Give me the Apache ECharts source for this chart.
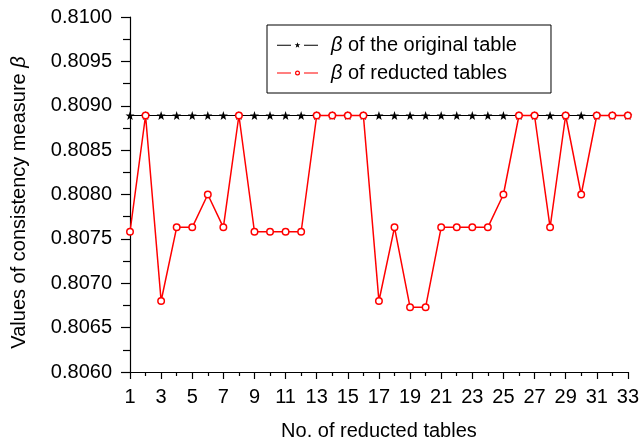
<!DOCTYPE html>
<html>
<head>
<meta charset="utf-8">
<script src="https://cdn.jsdelivr.net/npm/echarts@6/dist/echarts.min.js"></script>
<style>html,body{margin:0;padding:0;background:#fff}#c{width:642px;height:446px}</style>
</head>
<body>
<div id="c"></div>
<script>
const tables = [1,2,3,4,5,6,7,8,9,10,11,12,13,14,15,16,17,18,19,20,21,22,23,24,25,26,27,28,29,30,31,32,33];
const betaOriginal = [0.80889,0.80889,0.80889,0.80889,0.80889,0.80889,0.80889,0.80889,0.80889,0.80889,0.80889,0.80889,0.80889,0.80889,0.80889,0.80889,0.80889,0.80889,0.80889,0.80889,0.80889,0.80889,0.80889,0.80889,0.80889,0.80889,0.80889,0.80889,0.80889,0.80889,0.80889,0.80889,0.80889];
const betaReducted = [0.80758,0.80889,0.80680,0.80763,0.80763,0.80800,0.80763,0.80889,0.80758,0.80758,0.80758,0.80758,0.80889,0.80889,0.80889,0.80889,0.80680,0.80763,0.80673,0.80673,0.80763,0.80763,0.80763,0.80763,0.80800,0.80889,0.80889,0.80763,0.80889,0.80800,0.80889,0.80889,0.80889];
const seriesNames = ['original', 'reducted'];
const legendLabels = {original: ' of the original table', reducted: ' of reducted tables'};
const yTitle = 'Values of consistency measure ';
const xTitle = 'No. of reducted tables';

const FONT = 'Arial, "Liberation Sans", Helvetica, sans-serif';
const FS = 20;
const star = 'path://M0,-10 L2.35,-3.24 L9.51,-3.09 L3.8,1.24 L5.88,8.09 L0,4 L-5.88,8.09 L-3.8,1.24 L-9.51,-3.09 L-2.35,-3.24 Z';
// legend icons: line segment, symbol, line segment (box 41 x 6)
const legendStar = 'path://M0,2.5 L14,2.5 L14,3.5 L0,3.5 Z M27,2.5 L41,2.5 L41,3.5 L27,3.5 Z ' +
  'M20.5,0 L21.2,2.05 L23.35,2.05 L21.6,3.3 L22.3,5.4 L20.5,4.15 L18.7,5.4 L19.4,3.3 L17.65,2.05 L19.8,2.05 Z';
const legendCircle = 'path://M0,2.5 L14,2.5 L14,3.5 L0,3.5 Z M27,2.5 L41,2.5 L41,3.5 L27,3.5 Z ' +
  'M18,3 A2.5,2.5 0 1,1 23,3 A2.5,2.5 0 1,1 18,3 Z M19.2,3 A1.3,1.3 0 1,0 21.8,3 A1.3,1.3 0 1,0 19.2,3 Z';

const chart = echarts.init(document.getElementById('c'), null, {renderer: 'canvas'});
chart.setOption({
  animation: false,
  backgroundColor: '#fff',
  textStyle: {fontFamily: FONT},
  grid: {left: 130, right: 14, top: 17, bottom: 72, containLabel: false},
  legend: {
    left: 267, top: 25, orient: 'vertical',
    padding: [9, 34, 9, 10], itemGap: 6,
    itemWidth: 41, itemHeight: 6,
    borderColor: '#000', borderWidth: 1, backgroundColor: '#fff', borderRadius: 0,
    textStyle: {fontFamily: FONT, fontSize: FS, lineHeight: 22, color: '#000', padding: [0,0,0,8],
      rich: {b: {fontFamily: FONT, fontSize: FS, lineHeight: 22, fontStyle: 'italic', color: '#000'}}},
    formatter: n => '{b|β}' + legendLabels[n],
    data: [
      {name: 'original', icon: legendStar, itemStyle: {color: '#000', borderWidth: 0}},
      {name: 'reducted', icon: legendCircle, itemStyle: {color: '#ff0000', borderWidth: 0}}
    ]
  },
  xAxis: {
    type: 'value', min: 1, max: 33, interval: 2,
    name: xTitle, nameLocation: 'middle', nameGap: 49,
    nameTextStyle: {fontFamily: FONT, fontSize: FS, color: '#000'},
    axisLine: {show: true, lineStyle: {color: '#000', width: 1.2}},
    axisTick: {show: true, length: 7, lineStyle: {color: '#000', width: 1.2}},
    minorTick: {show: true, splitNumber: 2, length: 4, lineStyle: {color: '#000', width: 1.2}},
    axisLabel: {fontFamily: FONT, fontSize: FS, color: '#000', margin: 15},
    splitLine: {show: false}
  },
  yAxis: {
    type: 'value', min: 0.806, max: 0.810, interval: 0.0005,
    name: '{a|' + yTitle + '}{b|β}', nameLocation: 'middle', nameGap: 101,
    nameTextStyle: {padding: [0, 16, 0, 0], rich: {
      a: {fontFamily: FONT, fontSize: FS, color: '#000'},
      b: {fontFamily: FONT, fontSize: FS, color: '#000', fontStyle: 'italic'}}},
    axisLine: {show: true, lineStyle: {color: '#000', width: 1.2}},
    axisTick: {show: true, length: 9, lineStyle: {color: '#000', width: 1.2}},
    minorTick: {show: true, splitNumber: 2, length: 7, lineStyle: {color: '#000', width: 1.2}},
    axisLabel: {fontFamily: FONT, fontSize: FS, color: '#000', margin: 18,
      formatter: v => v.toFixed(4)},
    splitLine: {show: false}
  },
  series: [
    {
      name: 'original', type: 'line',
      data: tables.map((t, i) => [t, betaOriginal[i]]),
      symbol: star, symbolSize: 9,
      itemStyle: {color: '#000', borderWidth: 0},
      lineStyle: {color: '#000', width: 1.2},
      z: 2
    },
    {
      name: 'reducted', type: 'line',
      data: tables.map((t, i) => [t, betaReducted[i]]),
      symbol: 'circle', symbolSize: 6.5,
      itemStyle: {color: '#fff', borderColor: '#ff0000', borderWidth: 1.5},
      lineStyle: {color: '#ff0000', width: 1.5},
      z: 3
    }
  ]
});
</script>
</body>
</html>
